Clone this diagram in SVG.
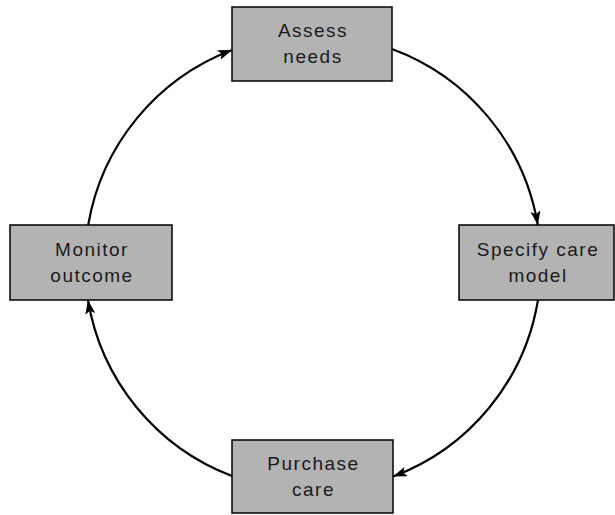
<svg xmlns="http://www.w3.org/2000/svg" width="615" height="515" viewBox="0 0 615 515">
<style>
.box{fill:#b3b3b3;stroke:#000;stroke-width:1.5}
.lbl{font-family:"Liberation Sans",Arial,sans-serif;font-size:19px;fill:#1a1a1a;text-anchor:middle;letter-spacing:1.5px}
.arc{fill:none;stroke:#000;stroke-width:2.2}
</style>
<defs>
<marker id="ah" markerUnits="userSpaceOnUse" markerWidth="16" markerHeight="12" refX="14" refY="5" orient="auto">
<path d="M0,0 L14,5 L0,10 L3,5 Z" fill="#000"/>
</marker>
</defs>
<g id="connectors">
<path class="arc" d="M392,49 A228,228 0 0 1 537.8,225" marker-end="url(#ah)"/>
<path class="arc" d="M538,300 A228,228 0 0 1 393,476.5" marker-end="url(#ah)"/>
<path class="arc" d="M232,476 A228,228 0 0 1 88,300" marker-end="url(#ah)"/>
<path class="arc" d="M88.2,225 A228,228 0 0 1 232,50" marker-end="url(#ah)"/>
</g>
<g id="assess">
<rect class="box" x="232" y="7" width="160" height="74"/>
<text class="lbl" x="313" y="37">Assess</text>
<text class="lbl" x="313" y="63">needs</text>
</g>
<g id="specify">
<rect class="box" x="459" y="225" width="155" height="75"/>
<text class="lbl" x="538" y="256">Specify care</text>
<text class="lbl" x="538" y="282">model</text>
</g>
<g id="purchase">
<rect class="box" x="232" y="440" width="161" height="73"/>
<text class="lbl" x="313.5" y="469.5">Purchase</text>
<text class="lbl" x="313.5" y="495.5">care</text>
</g>
<g id="monitor">
<rect class="box" x="10" y="225" width="162" height="75"/>
<text class="lbl" x="92" y="256">Monitor</text>
<text class="lbl" x="92" y="282">outcome</text>
</g>
</svg>
